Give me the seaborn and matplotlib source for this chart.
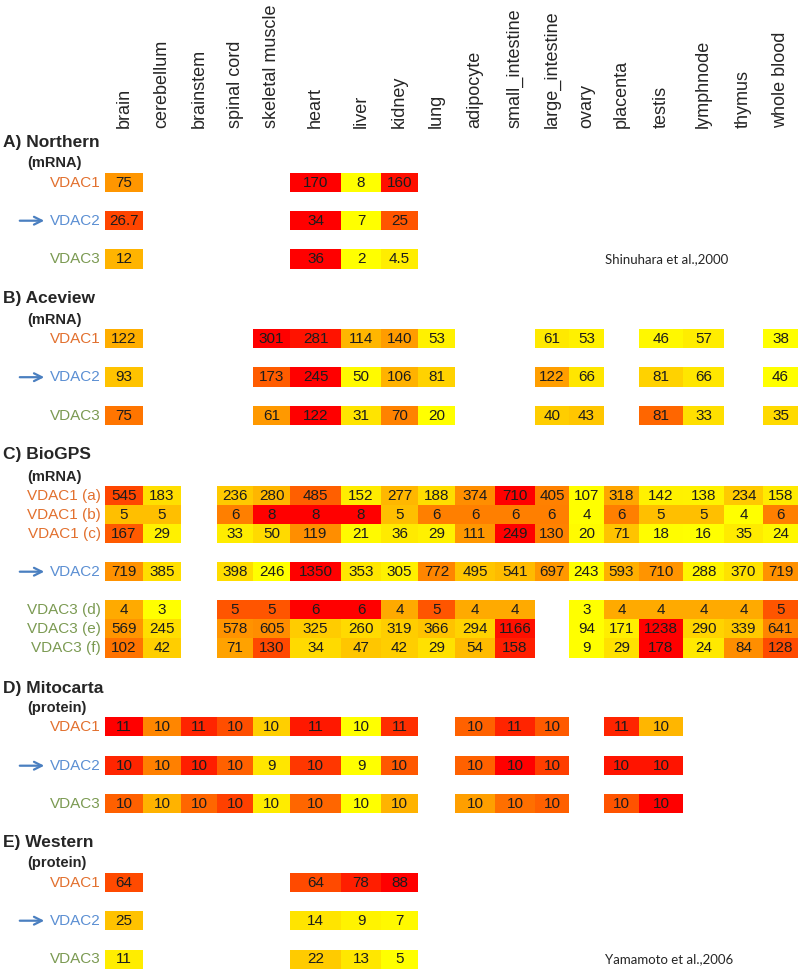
import numpy as np
import matplotlib.pyplot as plt
import seaborn as sns
from matplotlib.colors import LinearSegmentedColormap

nan = np.nan

tissues = ["brain", "cerebellum", "brainstem", "spinal cord", "skeletal muscle",
           "heart", "liver", "kidney", "lung", "adipocyte", "small_intestine",
           "large_intestine", "ovary", "placenta", "testis", "lymphnode",
           "thymus", "whole blood"]

# A) Northern (mRNA) - Shinuhara et al., 2000
northern_cols = ["brain", "heart", "liver", "kidney"]
northern_vdac1 = [75, 170, 8, 160]
northern_vdac2 = [26.7, 34, 7, 25]
northern_vdac3 = [12, 36, 2, 4.5]

# B) Aceview (mRNA)
aceview_cols = ["brain", "skeletal muscle", "heart", "liver", "kidney", "lung",
                "large_intestine", "ovary", "testis", "lymphnode", "whole blood"]
aceview_vdac1 = [122, 301, 281, 114, 140, 53, 61, 53, 46, 57, 38]
aceview_vdac2 = [93, 173, 245, 50, 106, 81, 122, 66, 81, 66, 46]
aceview_vdac3 = [75, 61, 122, 31, 70, 20, 40, 43, 81, 33, 35]

# C) BioGPS (mRNA), no brainstem
biogps_cols = [t for t in tissues if t != "brainstem"]
biogps_vdac1a = [545, 183, 236, 280, 485, 152, 277, 188, 374, 710, 405, 107, 318, 142, 138, 234, 158]
biogps_vdac1b = [5, 5, 6, 8, 8, 8, 5, 6, 6, 6, 6, 4, 6, 5, 5, 4, 6]
biogps_vdac1c = [167, 29, 33, 50, 119, 21, 36, 29, 111, 249, 130, 20, 71, 18, 16, 35, 24]
biogps_vdac2 = [719, 385, 398, 246, 1350, 353, 305, 772, 495, 541, 697, 243, 593, 710, 288, 370, 719]
biogps_vdac3d = [4, 3, 5, 5, 6, 6, 4, 5, 4, 4, nan, 3, 4, 4, 4, 4, 5]
biogps_vdac3e = [569, 245, 578, 605, 325, 260, 319, 366, 294, 1166, nan, 94, 171, 1238, 290, 339, 641]
biogps_vdac3f = [102, 42, 71, 130, 34, 47, 42, 29, 54, 158, nan, 9, 29, 178, 24, 84, 128]

# D) Mitocarta (protein) - shown rounded
mito_cols = ["brain", "cerebellum", "brainstem", "spinal cord", "skeletal muscle",
             "heart", "liver", "kidney", "adipocyte", "small_intestine",
             "large_intestine", "placenta", "testis"]
mito_vdac1 = [10.75, 10.2, 10.6, 10.43, 9.9, 10.65, 9.7, 10.56, 10.35, 10.6, 10.38, 10.6, 10.0]
mito_vdac2 = [10.24, 9.85, 10.27, 9.98, 9.41, 10.16, 9.3, 10.02, 9.98, 10.4, 10.13, 10.31, 10.31]
mito_vdac3 = [10.1, 9.84, 10.08, 10.2, 9.66, 10.08, 9.6, 9.84, 9.9, 10.05, 10.1, 10.14, 10.4]

# E) Western (protein) - Yamamoto et al., 2006
western_cols = ["brain", "heart", "liver", "kidney"]
western_vdac1 = [64, 64, 78, 88]
western_vdac2 = [25, 14, 9, 7]
western_vdac3 = [11, 22, 13, 5]

# ---- layout (pixels) ----
W, H = 800, 971
grid_left = 105
col_widths = np.array([38, 38, 36, 36, 37, 51, 40, 37, 37, 40, 40, 34, 35, 35, 44, 41, 39, 35])
col_centers = np.cumsum(col_widths) - col_widths / 2
row_h = 19.4

sections = [
    # title, subtitle, header y, sub y, columns, rows, tops, scaling, fmt
    ("A) Northern", "(mRNA)", 143, 163, northern_cols,
     [("VDAC1", northern_vdac1), ("VDAC2", northern_vdac2), ("VDAC3", northern_vdac3)],
     [173, 211, 249.5], "row", "{:g}"),
    ("B) Aceview", "(mRNA)", 298, 320, aceview_cols,
     [("VDAC1", aceview_vdac1), ("VDAC2", aceview_vdac2), ("VDAC3", aceview_vdac3)],
     [329, 367.5, 406], "row", "{:g}"),
    ("C) BioGPS", "(mRNA)", 455, 477, biogps_cols,
     [("VDAC1 (a)", biogps_vdac1a), ("VDAC1 (b)", biogps_vdac1b), ("VDAC1 (c)", biogps_vdac1c),
      ("VDAC2", biogps_vdac2),
      ("VDAC3 (d)", biogps_vdac3d), ("VDAC3 (e)", biogps_vdac3e), ("VDAC3 (f)", biogps_vdac3f)],
     [486, 505, 524, 562, 600.5, 619.5, 638.5], "row", "{:g}"),
    ("D) Mitocarta", "(protein)", 688, 708, mito_cols,
     [("VDAC1", mito_vdac1), ("VDAC2", mito_vdac2), ("VDAC3", mito_vdac3)],
     [717, 756, 794], "row", "{:.0f}"),
    ("E) Western", "(protein)", 843, 863, western_cols,
     [("VDAC1", western_vdac1), ("VDAC2", western_vdac2), ("VDAC3", western_vdac3)],
     [873, 911, 949.5], "block", "{:g}"),
]

gene_colors = {"VDAC1": "#E2702E", "VDAC2": "#5B8FD3", "VDAC3": "#7B9A52"}
arrow_color = "#4A7FC0"
cmap = LinearSegmentedColormap.from_list("ylrd", ["#FFFF00", "#FF0000"])

sns.set_style("white")
plt.rcParams["font.family"] = ["Liberation Sans", "DejaVu Sans"]

fig = plt.figure(figsize=(W / 100, H / 100), dpi=100)
over = fig.add_axes([0, 0, 1, 1])
over.set_xlim(0, W)
over.set_ylim(H, 0)
over.axis("off")


def px_axes(x, y, w, h):
    return fig.add_axes([x / W, 1 - (y + h) / H, w / W, h / H])


# tissue labels
for name, xc in zip(tissues, col_centers):
    over.text(grid_left + xc, 128, name, rotation=90, ha="center", va="bottom", fontsize=13)

for title, sub, ty, sy, cols, rows, tops, scaling, fmt in sections:
    over.text(3, ty, title, fontsize=12.5, fontweight="bold", va="center")
    over.text(27, sy, sub, fontsize=10.5, fontweight="bold", va="center")

    full = np.array([[dict(zip(cols, vals)).get(t, nan) for t in tissues] for _, vals in rows], dtype=float)
    if scaling == "block":
        lo, hi = np.nanmin(full), np.nanmax(full)
        norm = (full - lo) / (hi - lo)
    else:
        lo = np.nanmin(full, axis=1, keepdims=True)
        hi = np.nanmax(full, axis=1, keepdims=True)
        norm = (full - lo) / (hi - lo)

    for (label, _), vals, nrow, top in zip(rows, full, norm, tops):
        ax = px_axes(grid_left, top, col_widths.sum(), row_h)
        ax.set_facecolor("none")
        strip = np.repeat(nrow, col_widths)[np.newaxis, :]
        sns.heatmap(strip, ax=ax, cmap=cmap, vmin=0, vmax=1, cbar=False,
                    xticklabels=False, yticklabels=False)
        for xc, v in zip(col_centers, vals):
            if not np.isnan(v):
                ax.text(xc, 0.5, fmt.format(v), ha="center", va="center",
                        fontsize=11, color="#1c1c1c")

        yc = top + row_h / 2
        gene = label.split()[0]
        over.text(101, yc, label, ha="right", va="center", fontsize=11,
                  color=gene_colors[gene])
        if label == "VDAC2":
            over.annotate("", xy=(47, yc), xytext=(17, yc),
                          arrowprops=dict(arrowstyle="->", color=arrow_color,
                                          lw=1.6, mutation_scale=14))

fig.text(605 / W, 1 - 259 / H, "Shinuhara et al.,2000", fontsize=9.5,
         family=["Lato", "DejaVu Sans"], va="center")
fig.text(605 / W, 1 - 959 / H, "Yamamoto et al.,2006", fontsize=9.5,
         family=["Lato", "DejaVu Sans"], va="center")

fig.savefig("out.png", dpi=100)
